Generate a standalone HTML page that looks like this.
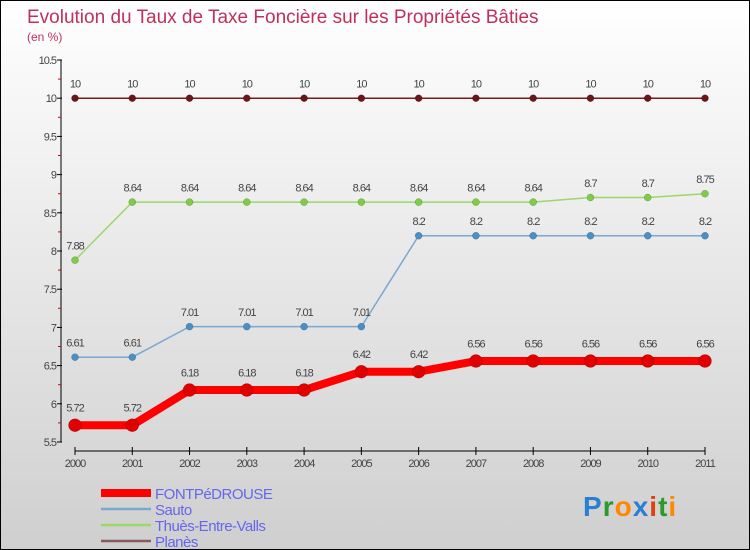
<!DOCTYPE html>
<html><head><meta charset="utf-8"><style>
body{margin:0}
#c{position:relative;width:748px;height:548px;border:1px solid #000;background:linear-gradient(#ffffff,#cfcfcf);font-family:"Liberation Sans",sans-serif;overflow:hidden}
</style></head><body>
<div id="c">
<svg id="s" width="748" height="548" xmlns="http://www.w3.org/2000/svg" font-family="Liberation Sans, sans-serif"></svg>
</div>
<script>
const years=[2000,2001,2002,2003,2004,2005,2006,2007,2008,2009,2010,2011];
const fontpedrouse=[5.72,5.72,6.18,6.18,6.18,6.42,6.42,6.56,6.56,6.56,6.56,6.56];
const sauto=[6.61,6.61,7.01,7.01,7.01,7.01,8.2,8.2,8.2,8.2,8.2,8.2];
const thues=[7.88,8.64,8.64,8.64,8.64,8.64,8.64,8.64,8.64,8.7,8.7,8.75];
const planes=[10,10,10,10,10,10,10,10,10,10,10,10];
const yTicks=[5.5,6,6.5,7,7.5,8,8.5,9,9.5,10,10.5];
const seriesNames=["FONTPéDROUSE","Sauto","Thuès-Entre-Valls","Planès"];
const s=document.getElementById('s');
const NS="http://www.w3.org/2000/svg";
function el(t,a,txt){const e=document.createElementNS(NS,t);for(const k in a)e.setAttribute(k,a[k]);if(txt!==undefined)e.textContent=txt;s.appendChild(e);return e;}
const X=i=>74+i*(704-74)/11;
const Y=v=>441-(v-5.5)/5*382;
let t=el('text',{x:26,y:22,'font-size':19,fill:'#c0305a'},'Evolution du Taux de Taxe Foncière sur les Propriétés Bâties');

t=el('text',{x:26,y:40,'font-size':12,fill:'#c0305a'},'(en %)');

// axes
let a=el('line',{x1:60,y1:59,x2:60,y2:441,stroke:'#000','stroke-width':1});

yTicks.forEach(v=>{
 el('line',{x1:56,y1:Y(v),x2:61,y2:Y(v),stroke:'#000'});
 if(v<10.5) el('line',{x1:57,y1:Y(v+0.25),x2:60,y2:Y(v+0.25),stroke:'#d00'});
 const l=el('text',{x:55,y:Y(v)+4,'font-size':11,fill:'#444','text-anchor':'end','letter-spacing':'-1'},String(v));
 
});
a=el('line',{x1:74,y1:450,x2:704,y2:450,stroke:'#000'});

years.forEach((yr,i)=>{
 el('line',{x1:X(i),y1:446,x2:X(i),y2:454,stroke:'#000'});
 const l=el('text',{x:X(i),y:466,'font-size':11,fill:'#444','text-anchor':'middle','letter-spacing':'-1'},String(yr));
 
});
function series(vals,col,dot,w,r,name){
 const p=el('polyline',{points:vals.map((v,i)=>X(i)+','+Y(v)).join(' '),fill:'none',stroke:col,'stroke-width':w,'stroke-linejoin':'round'});
 
 vals.forEach((v,i)=>{
  const c=el('circle',{cx:X(i),cy:Y(v),r:r,fill:dot,stroke:'rgba(0,0,0,0.3)','stroke-width':0.5});
  
  const l=el('text',{x:X(i),y:Y(v)-r-7,'font-size':11,fill:'#444','text-anchor':'middle','letter-spacing':'-1'},String(v));
  
 });
}
series(planes,'#7a1c1c','#6a1616',1.5,3.5,'planes');
series(thues,'#9ad86a','#80cc44',1.5,3.5,'thues');
series(sauto,'#7aa8d0','#4a90c8',1.5,3.5,'sauto');
series(fontpedrouse,'#ff0000','#e00000',8,6.5,'fontpedrouse');
const legCols=['#ff0000','#7aa8d0','#9ad86a','#8a5a5a'];
seriesNames.forEach((n,i)=>{
 const y=492+i*16;
 const ln=el('line',{x1:100,y1:y,x2:150,y2:y,stroke:legCols[i],'stroke-width':i==0?8:2.5});
 
 const l=el('text',{x:154,y:y+6,'font-size':15,fill:'#6666ee','letter-spacing':'-0.5'},n);
 
});
const logo=el('text',{x:582,y:515,'font-size':28,'font-weight':'bold','letter-spacing':'1'},'');

[['P','#2a7fd4'],['r','#2a9a30'],['o','#ff8800'],['x','#2a7fd4'],['i','#e04010'],['t','#2a9a30'],['i','#ff8800']].forEach(([c,f])=>{const ts=document.createElementNS(NS,'tspan');ts.setAttribute('fill',f);ts.textContent=c;logo.appendChild(ts);});
</script>
</body></html>
